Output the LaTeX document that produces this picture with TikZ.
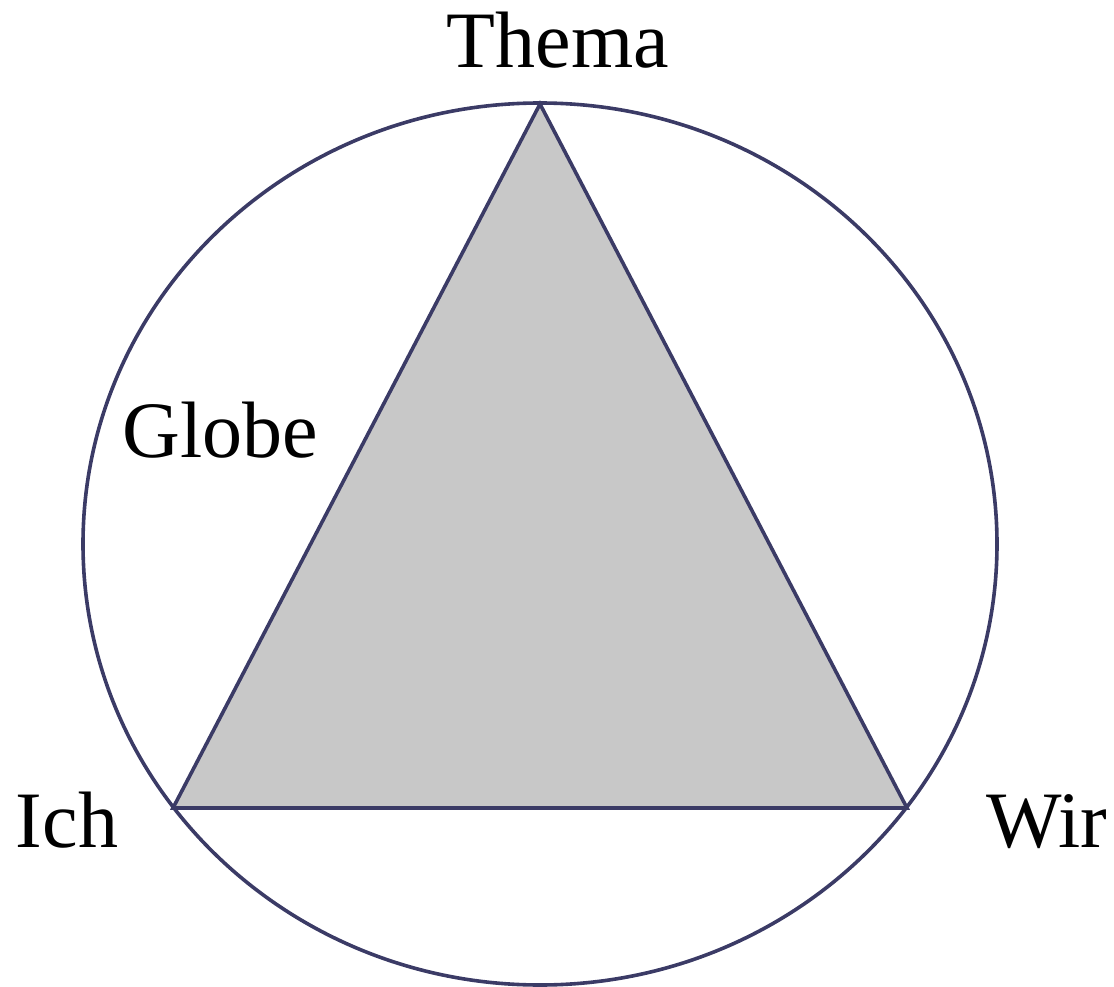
\documentclass[tikz,border=0pt]{standalone}
\usepackage{fontspec}
\setmainfont{Liberation Serif}
\definecolor{edge}{HTML}{3B3B66}
\definecolor{tri}{HTML}{C8C8C8}
\begin{document}
\begin{tikzpicture}[x=1pt,y=-1pt,
  outline/.style={draw=edge,line width=3.6pt},
  lbl/.style={font=\fontsize{80}{96}\selectfont,inner sep=0pt,anchor=base}]
\useasboundingbox (0,0) rectangle (1114,987);
\draw[outline] (540,544) ellipse [x radius=457, y radius=441];
\coordinate (T) at (540,104);
\coordinate (L) at (173,808);
\coordinate (R) at (907,808);
\filldraw[outline,fill=tri,line join=miter] (T) -- (L) -- (R) -- cycle;
\node[lbl] (thema) at (558,68) {Thema};
\node[lbl] (globe) at (220,457) {Globe};
\node[lbl] (ich) at (67,847) {Ich};
\node[lbl] (wir) at (1047,847) {Wir};
\end{tikzpicture}
\end{document}
